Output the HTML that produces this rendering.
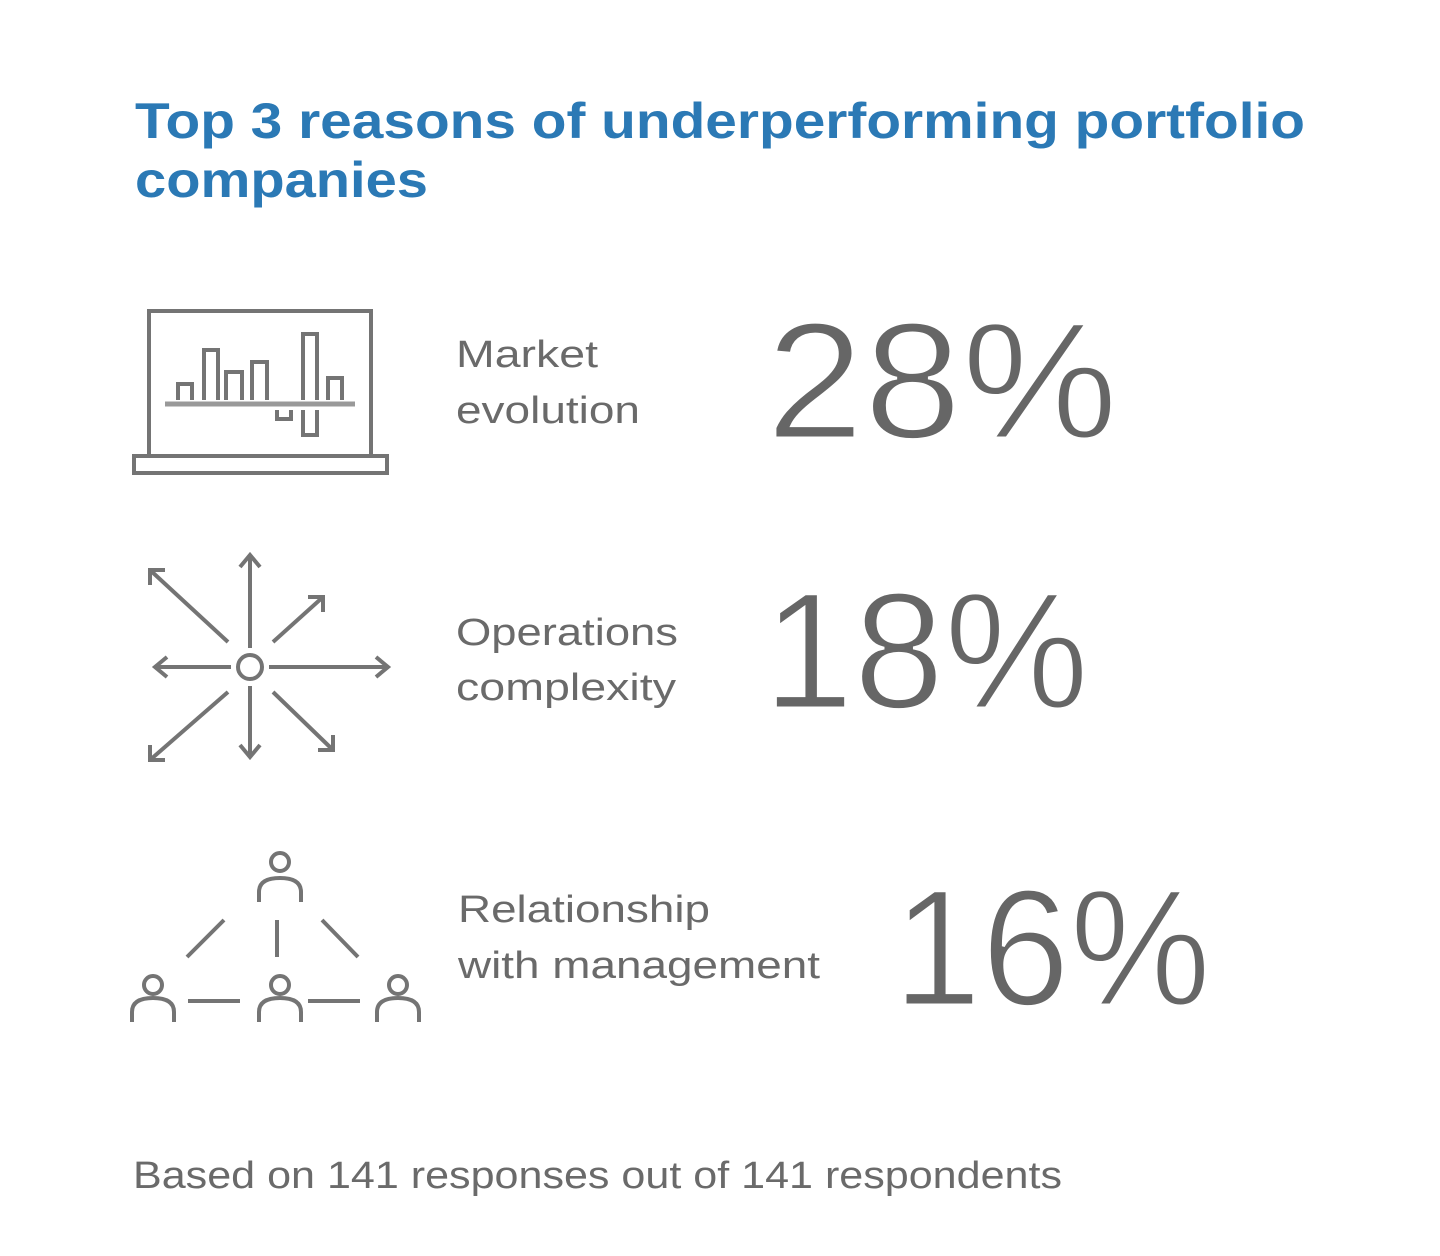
<!DOCTYPE html>
<html><head><style>body{margin:0;background:#fff}svg{display:block}</style></head><body>
<svg width="1440" height="1256" viewBox="0 0 1440 1256" xmlns="http://www.w3.org/2000/svg">
<rect width="1440" height="1256" fill="#fff"/>
<g font-family="Liberation Sans, sans-serif">
<text x="135" y="138" font-size="50" font-weight="bold" fill="#2b79b5" textLength="1170" lengthAdjust="spacingAndGlyphs">Top 3 reasons of underperforming portfolio</text>
<text x="135" y="197" font-size="50" font-weight="bold" fill="#2b79b5" textLength="293" lengthAdjust="spacingAndGlyphs">companies</text>
<g fill="#6a6a6a" font-size="38">
<text x="456" y="367" textLength="142" lengthAdjust="spacingAndGlyphs">Market</text>
<text x="456" y="423" textLength="184" lengthAdjust="spacingAndGlyphs">evolution</text>
<text x="456" y="645" textLength="222" lengthAdjust="spacingAndGlyphs">Operations</text>
<text x="456" y="700" textLength="220" lengthAdjust="spacingAndGlyphs">complexity</text>
<text x="458" y="922" textLength="252" lengthAdjust="spacingAndGlyphs">Relationship</text>
<text x="458" y="978" textLength="362" lengthAdjust="spacingAndGlyphs">with management</text>
<text x="133" y="1188" textLength="929" lengthAdjust="spacingAndGlyphs">Based on 141 responses out of 141 respondents</text>
</g>
<g fill="#666" font-size="166" stroke="#fff" stroke-width="3">
<text x="766" y="438" textLength="352" lengthAdjust="spacingAndGlyphs">28%</text>
<text x="763" y="708" textLength="326" lengthAdjust="spacingAndGlyphs">18%</text>
<text x="893" y="1005" textLength="318" lengthAdjust="spacingAndGlyphs">16%</text>
</g>
</g>
<g fill="none" stroke="#747474" stroke-width="4">
<rect x="149" y="311" width="222" height="145"/>
<rect x="134" y="456" width="253" height="17"/>
<line x1="165" y1="404" x2="355" y2="404" stroke="#999" stroke-width="5"/>
<path d="M178 400V384H192V400M204 400V350H218V400M226 400V372H242V400M252 400V362H267V400M303 400V334H317V400M328 400V378H342V400"/>
<path d="M277 410V419H291V410M303 410V435H317V410"/>
<circle cx="250" cy="667" r="12"/>
<path d="M250 648V557M240 567L250 555L260 567"/>
<path d="M250 686V755M240 745L250 757L260 745"/>
<path d="M231 667H155M167 657L155 667L167 677"/>
<path d="M269 667H388M376 657L388 667L376 677"/>
<path d="M228 642L150 570M150 585V570H165"/>
<path d="M273 642L323 597M308 597H323V612"/>
<path d="M228 692L150 760M150 745V760H165"/>
<path d="M273 692L333 750M333 735V750H318"/>
<g stroke-width="4">
<circle cx="280" cy="862" r="9"/><path d="M259 902V892Q259 878 280 878Q301 878 301 892V902"/>
<circle cx="153" cy="985" r="9"/><path d="M132 1022V1012Q132 998 153 998Q174 998 174 1012V1022"/>
<circle cx="280" cy="985" r="9"/><path d="M259 1022V1012Q259 998 280 998Q301 998 301 1012V1022"/>
<circle cx="398" cy="985" r="9"/><path d="M377 1022V1012Q377 998 398 998Q419 998 419 1012V1022"/>
<path d="M187 957L224 920M277 920V957M322 920L358 957M188 1001H240M308 1001H360"/>
</g>
</g>
</svg>
</body></html>
